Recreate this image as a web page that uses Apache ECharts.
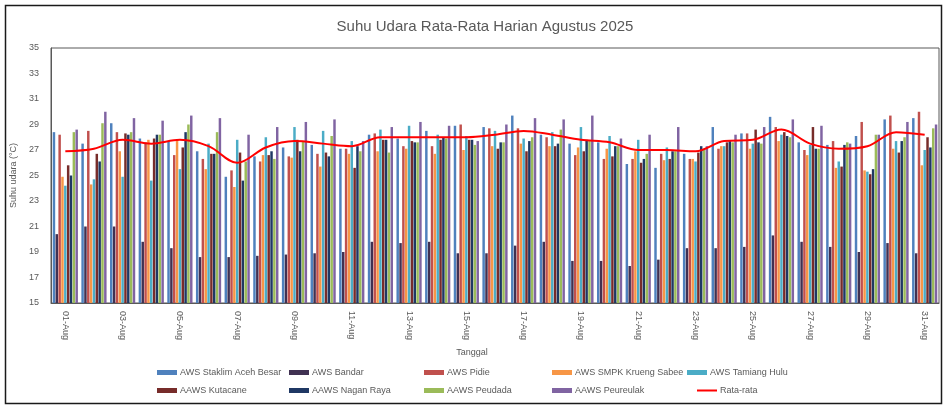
<!DOCTYPE html>
<html>
<head>
<meta charset="utf-8">
<script src="https://cdn.jsdelivr.net/npm/echarts@6/dist/echarts.min.js"></script>
<style>
  html, body { margin: 0; padding: 0; background: #fff; }
  #chart { width: 945px; height: 406px; }
</style>
</head>
<body>
<div id="chart"></div>
<script>
// tanggal
const days = [];
for (let d = 1; d <= 31; d++) days.push((d < 10 ? '0' + d : '' + d) + '-Aug');

const seriesNames = [
  'AWS Staklim Aceh Besar', 'AWS Bandar', 'AWS Pidie', 'AWS SMPK Krueng Sabee', 'AWS Tamiang Hulu',
  'AAWS Kutacane', 'AAWS Nagan Raya', 'AAWS Peudada', 'AAWS Peureulak'
];
const lineName = 'Rata-rata';

const staklim = [28.4, 27.5, 29.1, 27.9, 27.7, 26.9, 24.9, 26.5, 27.2, 27.4, 27.1, 28.2, 27.9, 28.5, 28.9, 28.8, 29.7, 28.2, 27.5, 27.6, 25.9, 25.6, 26.7, 28.8, 28.3, 29.6, 27.6, 27.4, 28.1, 29.4, 29.5];
const bandar = [20.4, 21.0, 21.0, 19.8, 19.3, 18.6, 18.6, 18.7, 18.8, 18.9, 19.0, 19.8, 19.7, 19.8, 18.9, 18.9, 19.5, 19.8, 18.3, 18.3, 17.9, 18.4, 19.3, 19.3, 19.4, 20.3, 19.8, 19.4, 19.0, 19.7, 18.9];
const pidie = [28.2, 28.5, 28.4, 27.6, 26.6, 26.3, 25.4, 26.1, 26.5, 26.7, 27.1, 28.3, 27.3, 27.3, 29.0, 28.7, 28.7, 28.0, 26.6, 26.3, 26.3, 26.7, 26.3, 27.1, 28.3, 28.8, 27.0, 27.7, 29.2, 29.7, 30.0];
const smpk = [24.9, 24.3, 26.9, 27.8, 27.8, 25.5, 24.1, 26.6, 26.4, 25.7, 26.7, 26.9, 27.1, 26.7, 27.0, 27.3, 27.5, 27.3, 27.2, 27.1, 26.9, 26.2, 26.3, 27.3, 27.1, 27.7, 26.6, 25.6, 25.4, 27.1, 25.8];
const tamiang = [24.2, 24.7, 24.9, 24.6, 25.5, 27.5, 27.8, 28.0, 28.8, 28.5, 27.7, 28.6, 28.9, 28.2, 28.1, 28.5, 27.9, 28.4, 28.8, 28.1, 27.8, 27.2, 26.1, 27.3, 27.5, 28.2, 27.4, 26.1, 25.3, 27.7, 27.0];
const kutacane = [25.8, 26.7, 28.3, 27.9, 27.2, 26.7, 26.8, 26.6, 27.8, 26.8, 25.6, 27.8, 27.7, 27.8, 27.8, 27.1, 26.9, 27.3, 26.9, 26.5, 26.0, 26.3, 26.8, 27.6, 28.6, 28.4, 28.8, 25.7, 25.1, 26.8, 28.0];
const nagan = [25.0, 26.1, 28.2, 28.2, 28.4, 26.7, 24.6, 26.9, 26.9, 26.5, 27.3, 27.8, 27.6, 28.0, 27.8, 27.6, 27.7, 27.5, 27.8, 27.3, 26.3, 26.9, 27.3, 27.7, 27.6, 28.1, 27.1, 27.4, 25.5, 27.7, 27.2];
const peudada = [28.4, 29.1, 28.4, 28.2, 29.0, 28.4, 26.1, 26.3, 27.7, 28.1, 26.9, 26.8, 27.6, 27.9, 27.4, 27.6, 28.0, 28.6, 27.7, 27.3, 26.7, 26.9, 27.1, 27.6, 27.5, 28.0, 27.1, 27.6, 28.2, 28.0, 28.7];
const peureulak = [28.6, 30.0, 29.5, 29.3, 29.7, 29.5, 28.2, 28.8, 29.2, 29.4, 27.7, 28.8, 29.2, 28.9, 27.7, 29.0, 29.5, 29.4, 29.7, 27.9, 28.2, 28.8, 27.3, 28.2, 28.8, 29.4, 28.9, 27.5, 28.2, 29.2, 29.0];
const rataRata = [26.9, 27.1, 27.8, 27.5, 27.8, 27.3, 26.0, 27.2, 27.7, 27.5, 27.3, 28.0, 28.0, 28.0, 28.0, 28.2, 28.5, 28.2, 27.8, 27.6, 27.0, 27.0, 26.9, 27.7, 27.8, 28.6, 27.5, 27.1, 27.3, 28.4, 28.2];

const barData = [staklim, bandar, pidie, smpk, tamiang, kutacane, nagan, peudada, peureulak];
const barColors = ['#4F81BD', '#403152', '#C0504D', '#F79646', '#4BACC6', '#772C2A', '#1F3864', '#9BBB59', '#8064A2'];
const yTicks = [15, 35, 2]; // min, max, interval

const font = 'Liberation Sans, Arial, sans-serif';
const grey = '#595959';

const chart = echarts.init(document.getElementById('chart'));

const series = barData.map((d, i) => ({
  name: seriesNames[i],
  type: 'bar',
  data: d,
  barGap: '15%',
  barCategoryGap: '12%',
  itemStyle: { color: barColors[i] },
  emphasis: { disabled: true }
}));
series.push({
  name: lineName,
  type: 'line',
  data: rataRata,
  smooth: 0.35,
  showSymbol: false,
  z: 5,
  lineStyle: { color: '#FF0000', width: 2 },
  itemStyle: { color: '#FF0000' }
});

// posisi legend (dua baris)
const legendPos = [
  [157, 368], [289, 368], [424, 368], [552, 368], [687, 368],
  [157, 386], [289, 386], [424, 386], [552, 386], [697, 386]
];
const allNames = seriesNames.concat([lineName]);
const legends = allNames.map((n, i) => ({
  data: [n],
  left: legendPos[i][0],
  top: legendPos[i][1],
  icon: 'rect',
  itemWidth: 20,
  itemHeight: n === lineName ? 2 : 5,
  itemGap: 3,
  padding: 0,
  textStyle: { fontFamily: font, fontSize: 9, color: grey, padding: [0, 0, 0, -2] }
}));

const option = {
  animation: false,
  title: {
    text: 'Suhu Udara Rata-Rata Harian Agustus 2025',
    left: 480,
    top: 14,
    textAlign: 'center',
    textStyle: { fontFamily: font, fontSize: 15, fontWeight: 'normal', color: grey }
  },
  legend: legends,
  grid: {
    left: 51, right: 6, top: 48, bottom: 103,
    show: true, borderColor: '#595959', borderWidth: 1
  },
  xAxis: {
    type: 'category',
    data: days,
    name: 'Tanggal',
    nameLocation: 'middle',
    nameGap: 45,
    nameTextStyle: { fontFamily: font, fontSize: 9, color: grey, padding: [0, 46, 0, 0] },
    axisLine: { show: true, lineStyle: { color: '#595959' } },
    axisTick: { show: false },
    axisLabel: { interval: 1, rotate: -90, fontFamily: font, fontSize: 9, color: grey, margin: 8 }
  },
  yAxis: {
    type: 'value',
    min: yTicks[0], max: yTicks[1], interval: yTicks[2],
    name: 'Suhu udara (°C)',
    nameLocation: 'middle',
    nameGap: 28,
    nameTextStyle: { fontFamily: font, fontSize: 9, color: grey },
    axisLine: { show: true, lineStyle: { color: '#595959' } },
    axisTick: { show: false },
    splitLine: { show: false },
    axisLabel: { fontFamily: font, fontSize: 9, color: grey, margin: 12 }
  },
  graphic: [{
    type: 'rect',
    shape: { x: 5.5, y: 5.5, width: 936, height: 398 },
    style: { fill: 'none', stroke: '#1a1a1a', lineWidth: 1.5 },
    silent: true
  }],
  series: series
};
chart.setOption(option);
</script>
</body>
</html>
